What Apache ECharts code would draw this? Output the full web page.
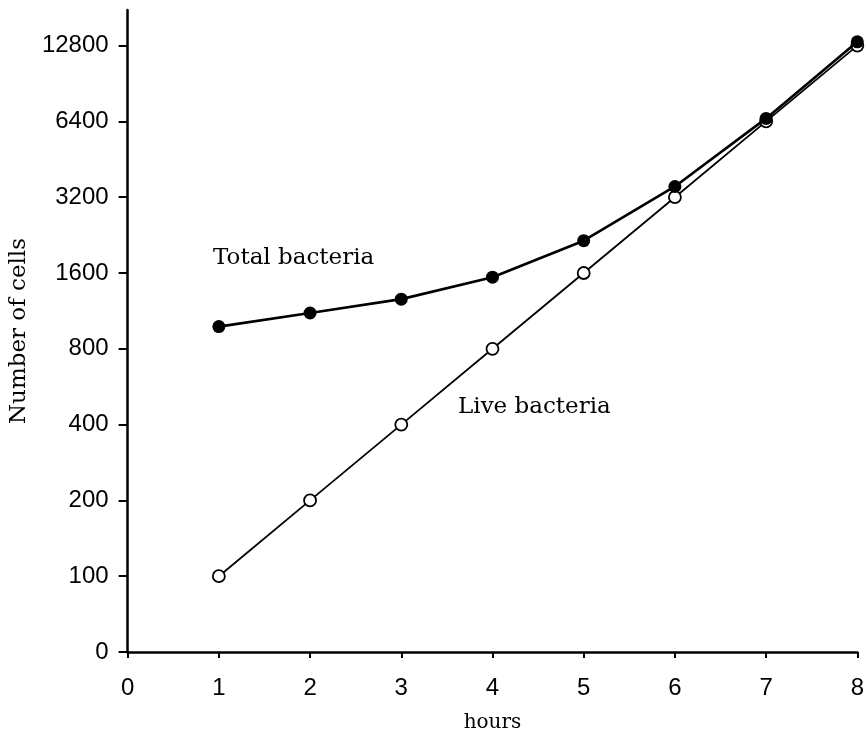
<!DOCTYPE html>
<html><head><meta charset="utf-8">
<script src="https://cdn.jsdelivr.net/npm/echarts@6/dist/echarts.min.js"></script>
<style>html,body{margin:0;padding:0;background:#fff}#c{width:867px;height:738px}</style>
</head><body><div id="c"></div>
<script>
const hours = [1, 2, 3, 4, 5, 6, 7, 8];
const totalBacteria = [980, 1110, 1260, 1540, 2150, 3530, 6580, 13250];
const liveBacteria = [100, 200, 400, 800, 1600, 3200, 6400, 12800];
const yTickLabels = ['0', '100', '200', '400', '800', '1600', '3200', '6400', '12800'];
const xTickLabels = ['0', '1', '2', '3', '4', '5', '6', '7', '8'];

// y axis is a doubling scale: 100 -> 1, 200 -> 2, ..., with 0 at the bottom
const pos = v => (v <= 0 ? 0 : Math.log2(v / 100) + 1);
const yTickPositions = yTickLabels.map((_, i) => i);
const xTickPositions = xTickLabels.map((_, i) => i);

const chart = echarts.init(document.getElementById('c'), null, {renderer: 'canvas'});
const axisFont = {color: '#000', fontFamily: 'Liberation Sans', fontSize: 24, fontWeight: 'normal'};
chart.setOption({
  backgroundColor: '#fff',
  animation: false,
  grid: {left: 126, right: 5, top: 10, bottom: 85, containLabel: false},
  xAxis: {
    type: 'value', min: 0, max: 8, interval: 1,
    name: 'hours', nameLocation: 'middle', nameGap: 61,
    nameTextStyle: {color: '#000', fontFamily: 'DejaVu Serif', fontSize: 20},
    axisLine: {show: true, lineStyle: {color: '#000', width: 2.5}},
    axisTick: {show: true, length: 6, inside: false, lineStyle: {color: '#000', width: 2}, customValues: xTickPositions},
    axisLabel: Object.assign({margin: 24, customValues: xTickPositions, formatter: v => xTickLabels[Math.round(v)] ?? ''}, axisFont),
    splitLine: {show: false}
  },
  yAxis: {
    type: 'value', min: 0, max: 8.47,
    name: 'Number of cells', nameLocation: 'middle', nameRotate: 90, nameGap: 90,
    nameTextStyle: {color: '#000', fontFamily: 'DejaVu Serif', fontSize: 23},
    axisLine: {show: true, lineStyle: {color: '#000', width: 2.5}},
    axisTick: {show: true, length: 9, lineStyle: {color: '#000', width: 2}, customValues: yTickPositions},
    axisLabel: Object.assign({margin: 19, customValues: yTickPositions, formatter: v => yTickLabels[Math.round(v)] ?? ''}, axisFont),
    splitLine: {show: false}
  },
  series: [
    {
      name: 'Live bacteria', type: 'line',
      data: hours.map((h, i) => [h, pos(liveBacteria[i])]),
      symbol: 'circle', symbolSize: 12,
      lineStyle: {color: '#000', width: 1.8},
      itemStyle: {color: '#fff', borderColor: '#000', borderWidth: 1.8},
      z: 2
    },
    {
      name: 'Total bacteria', type: 'line',
      data: hours.map((h, i) => [h, pos(totalBacteria[i])]),
      symbol: 'circle', symbolSize: 13,
      lineStyle: {color: '#000', width: 2.6},
      itemStyle: {color: '#000', borderColor: '#000', borderWidth: 0},
      z: 3
    }
  ],
  graphic: [
    {type: 'text', left: 213, top: 247, style: {text: 'Total bacteria', fill: '#000', font: '23px "DejaVu Serif"'}},
    {type: 'text', left: 458, top: 396, style: {text: 'Live bacteria', fill: '#000', font: '23px "DejaVu Serif"'}}
  ]
});
</script></body></html>
